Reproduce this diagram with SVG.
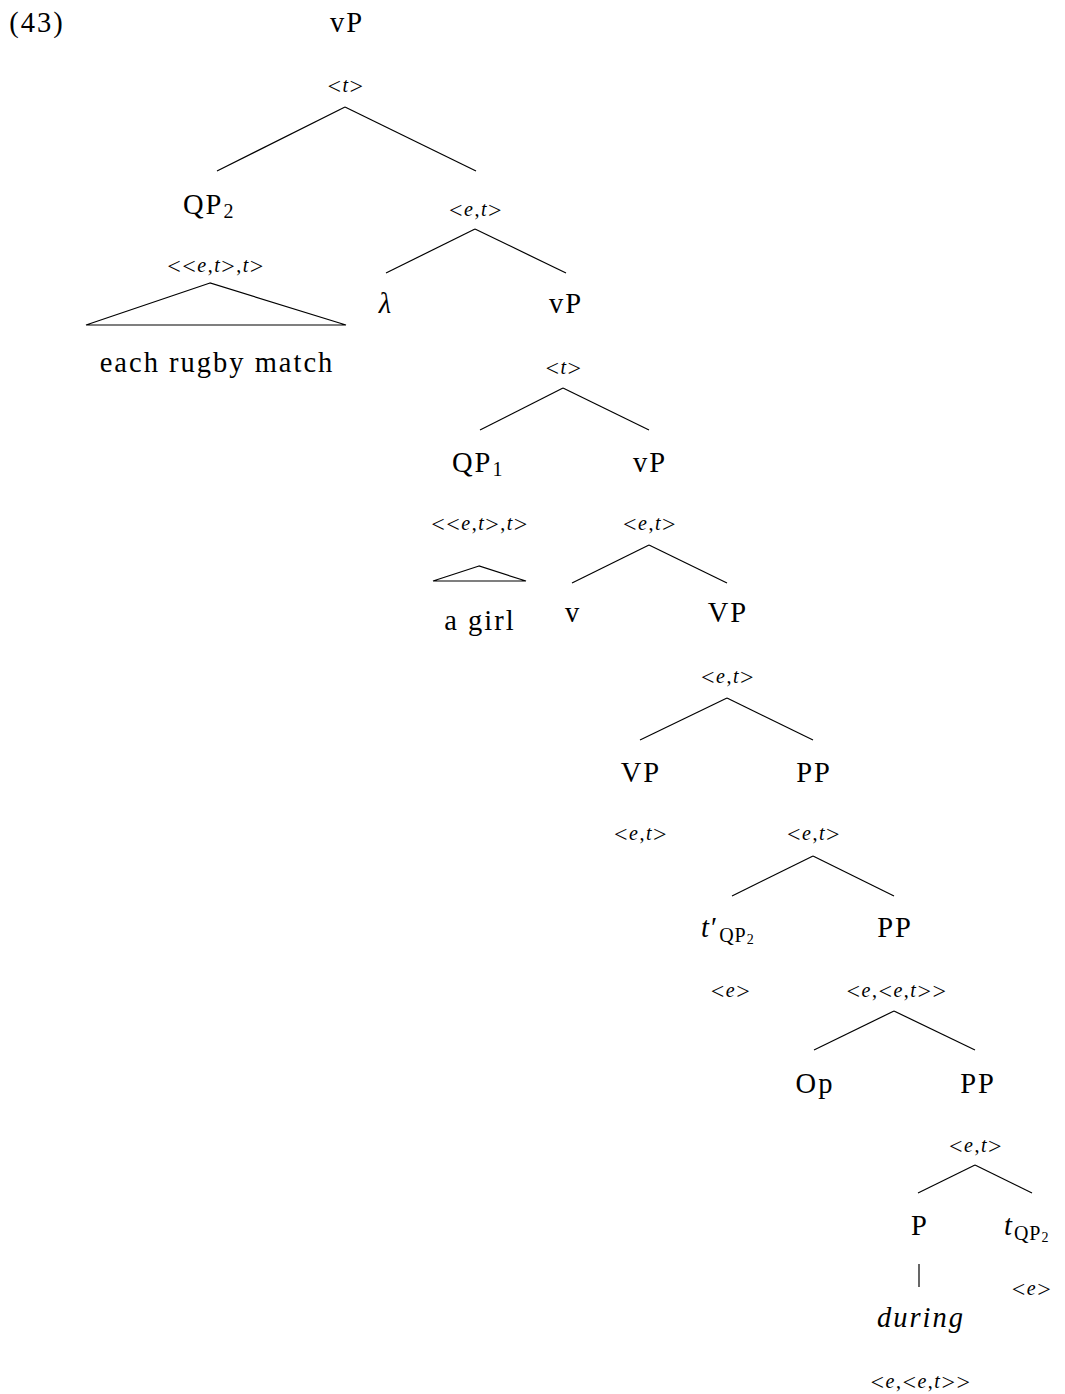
<svg xmlns="http://www.w3.org/2000/svg" width="1065" height="1394" viewBox="0 0 1065 1394">
<style>
text{font-family:"Liberation Serif","DejaVu Serif",serif;fill:#000;text-anchor:middle}
.b{font-size:28.5px;letter-spacing:2px}
.s{font-size:20px;letter-spacing:1.5px}
.k{font-size:24px;baseline-shift:-2px}
.l{text-anchor:start}
.i{font-style:italic}
.sub{font-size:20px;letter-spacing:1px}
.ss{font-size:14px}
line,polygon{stroke:#000;stroke-width:1.2;fill:none}
</style>
<rect width="1065" height="1394" fill="#fff"/>
<text class="b" x="37" y="32">(43)</text>
<g id="n_vP0"><text class="b" x="347" y="32">vP</text><text class="s" x="346" y="92"><tspan class="k">&lt;</tspan><tspan class="i">t</tspan><tspan class="k">&gt;</tspan></text></g>
<g id="n_QP2"><text class="b l" x="183" y="214">QP<tspan class="sub" dy="4">2</tspan></text><text class="s" x="216" y="272"><tspan class="k">&lt;&lt;</tspan><tspan class="i">e</tspan>,<tspan class="i">t</tspan><tspan class="k">&gt;</tspan>,<tspan class="i">t</tspan><tspan class="k">&gt;</tspan></text></g>
<g id="n_erm"><polygon points="210,283 86,325 346,325"/><text class="b" x="217" y="372">each rugby match</text></g>
<g id="n_et1"><text class="s" x="476" y="216"><tspan class="k">&lt;</tspan><tspan class="i">e</tspan>,<tspan class="i">t</tspan><tspan class="k">&gt;</tspan></text></g>
<g id="n_lambda"><text class="b i" x="386" y="313">λ</text></g>
<g id="n_vP1"><text class="b" x="566" y="313">vP</text><text class="s" x="564" y="374"><tspan class="k">&lt;</tspan><tspan class="i">t</tspan><tspan class="k">&gt;</tspan></text></g>
<g id="n_QP1"><text class="b l" x="452" y="472">QP<tspan class="sub" dy="4">1</tspan></text><text class="s" x="480" y="530"><tspan class="k">&lt;&lt;</tspan><tspan class="i">e</tspan>,<tspan class="i">t</tspan><tspan class="k">&gt;</tspan>,<tspan class="i">t</tspan><tspan class="k">&gt;</tspan></text></g>
<g id="n_agirl"><polygon points="479,566 433,581 526,581"/><text class="b" x="480" y="630">a girl</text></g>
<g id="n_vP2"><text class="b" x="650" y="472">vP</text><text class="s" x="650" y="530"><tspan class="k">&lt;</tspan><tspan class="i">e</tspan>,<tspan class="i">t</tspan><tspan class="k">&gt;</tspan></text></g>
<g id="n_v"><text class="b" x="573" y="622">v</text></g>
<g id="n_VP0"><text class="b" x="728" y="622">VP</text><text class="s" x="728" y="683"><tspan class="k">&lt;</tspan><tspan class="i">e</tspan>,<tspan class="i">t</tspan><tspan class="k">&gt;</tspan></text></g>
<g id="n_VP1"><text class="b" x="641" y="782">VP</text><text class="s" x="641" y="840"><tspan class="k">&lt;</tspan><tspan class="i">e</tspan>,<tspan class="i">t</tspan><tspan class="k">&gt;</tspan></text></g>
<g id="n_PP0"><text class="b" x="814" y="782">PP</text><text class="s" x="814" y="840"><tspan class="k">&lt;</tspan><tspan class="i">e</tspan>,<tspan class="i">t</tspan><tspan class="k">&gt;</tspan></text></g>
<g id="n_tprime"><text class="b l" x="701" y="937"><tspan class="i">t</tspan>′<tspan class="sub" dy="5">QP</tspan><tspan class="ss" dy="2">2</tspan></text><text class="s" x="731" y="997"><tspan class="k">&lt;</tspan><tspan class="i">e</tspan><tspan class="k">&gt;</tspan></text></g>
<g id="n_PP1"><text class="b" x="895" y="937">PP</text><text class="s" x="897" y="997"><tspan class="k">&lt;</tspan><tspan class="i">e</tspan>,<tspan class="k">&lt;</tspan><tspan class="i">e</tspan>,<tspan class="i">t</tspan><tspan class="k">&gt;&gt;</tspan></text></g>
<g id="n_Op"><text class="b" x="815" y="1093">Op</text></g>
<g id="n_PP2"><text class="b" x="978" y="1093">PP</text><text class="s" x="976" y="1152"><tspan class="k">&lt;</tspan><tspan class="i">e</tspan>,<tspan class="i">t</tspan><tspan class="k">&gt;</tspan></text></g>
<g id="n_P"><text class="b" x="920" y="1235">P</text></g>
<g id="n_during"><text class="b i" x="921" y="1327">during</text><text class="s" x="921" y="1388"><tspan class="k">&lt;</tspan><tspan class="i">e</tspan>,<tspan class="k">&lt;</tspan><tspan class="i">e</tspan>,<tspan class="i">t</tspan><tspan class="k">&gt;&gt;</tspan></text></g>
<g id="n_tQP2"><text class="b l" x="1004" y="1235"><tspan class="i">t</tspan><tspan class="sub" dy="5">QP</tspan><tspan class="ss" dy="2">2</tspan></text><text class="s" x="1032" y="1295"><tspan class="k">&lt;</tspan><tspan class="i">e</tspan><tspan class="k">&gt;</tspan></text></g>
<g id="connectors">
<line x1="345" y1="107" x2="217" y2="171"/><line x1="345" y1="107" x2="476" y2="171"/>
<line x1="475" y1="229" x2="386" y2="273"/><line x1="475" y1="229" x2="566" y2="273"/>
<line x1="563" y1="388" x2="480" y2="430"/><line x1="563" y1="388" x2="649" y2="430"/>
<line x1="649" y1="545" x2="572" y2="583"/><line x1="649" y1="545" x2="727" y2="583"/>
<line x1="727" y1="698" x2="640" y2="740"/><line x1="727" y1="698" x2="813" y2="740"/>
<line x1="813" y1="856" x2="732" y2="896"/><line x1="813" y1="856" x2="894" y2="896"/>
<line x1="894" y1="1011" x2="814" y2="1050"/><line x1="894" y1="1011" x2="975" y2="1050"/>
<line x1="975" y1="1165" x2="918" y2="1193"/><line x1="975" y1="1165" x2="1032" y2="1193"/>
<line x1="919" y1="1264" x2="919" y2="1287"/>
</g>
</svg>
